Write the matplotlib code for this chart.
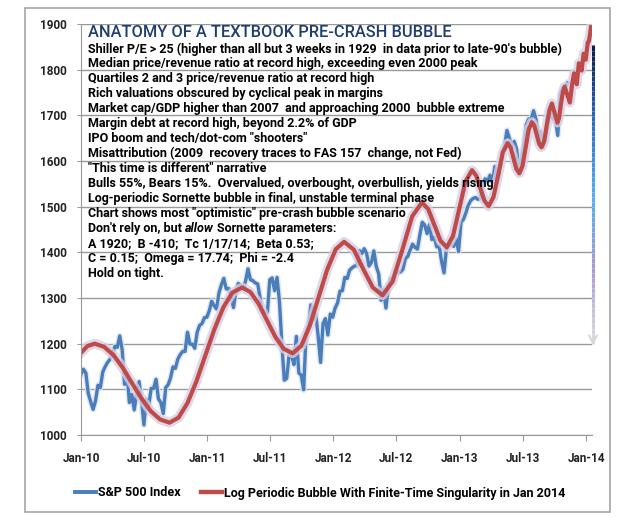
import matplotlib
matplotlib.use('Agg')
import matplotlib.pyplot as plt
import matplotlib.dates as mdates
import matplotlib.patheffects as pe
from matplotlib.collections import LineCollection
from matplotlib.colors import LinearSegmentedColormap
from matplotlib.lines import Line2D
from matplotlib.patches import Rectangle
import numpy as np
import pandas as pd

plt.rcParams['font.family'] = ['Roboto', 'DejaVu Sans']

# S&P 500 weekly closes (Fridays)
sp_2010 = [1133, 1144, 1136, 1091, 1073, 1056, 1075, 1109, 1104, 1138, 1150, 1159, 1166,
           1178, 1194, 1192, 1217, 1187, 1111, 1136, 1071, 1089, 1055, 1092, 1117, 1076,
           1022, 1078, 1065, 1102, 1102, 1122, 1079, 1071, 1047, 1104, 1110, 1125, 1149,
           1146, 1166, 1176, 1183, 1183, 1225, 1199, 1199, 1190, 1225, 1240, 1244, 1257, 1258]
sp_2011 = [1272, 1293, 1283, 1276, 1311, 1329, 1343, 1320, 1321, 1304, 1279, 1314, 1332,
           1328, 1320, 1337, 1364, 1340, 1338, 1333, 1331, 1300, 1271, 1271, 1268, 1340,
           1344, 1316, 1345, 1292, 1199, 1120, 1124, 1177, 1174, 1154, 1216, 1136, 1131,
           1099, 1224, 1238, 1285, 1253, 1264, 1216, 1159, 1244, 1255, 1219, 1265, 1258]
sp_2012 = [1278, 1289, 1315, 1316, 1345, 1343, 1361, 1366, 1370, 1371, 1404, 1397, 1408,
           1398, 1370, 1378, 1403, 1369, 1353, 1295, 1318, 1278, 1325, 1343, 1335, 1362,
           1355, 1357, 1363, 1386, 1391, 1405, 1418, 1411, 1407, 1438, 1466, 1460, 1441,
           1461, 1428, 1433, 1412, 1414, 1380, 1355, 1409, 1416, 1418, 1413, 1430, 1402]
sp_2013 = [1466, 1472, 1486, 1503, 1513, 1518, 1520, 1516, 1518, 1551, 1561, 1556, 1569,
           1553, 1588, 1555, 1582, 1614, 1633, 1667, 1650, 1631, 1643, 1626, 1573, 1606,
           1632, 1680, 1692, 1692, 1710, 1691, 1656, 1664, 1633, 1655, 1688, 1710, 1692,
           1691, 1656, 1745, 1760, 1762, 1771]
sp_values = sp_2010 + sp_2011 + sp_2012 + sp_2013
sp_dates = pd.date_range('2010-01-01', periods=len(sp_values), freq='W-FRI')

# log-periodic bubble curve
lp_dates = ['2010-01-01', '2010-01-20', '2010-02-10', '2010-03-09', '2010-04-05', '2010-05-02',
            '2010-05-29', '2010-06-25', '2010-07-22', '2010-08-18', '2010-09-14', '2010-10-10',
            '2010-11-05', '2010-12-01', '2010-12-27', '2011-01-22', '2011-02-17', '2011-03-15',
            '2011-04-12', '2011-05-06', '2011-05-30', '2011-06-23', '2011-07-17', '2011-08-10',
            '2011-09-05', '2011-09-30', '2011-10-25', '2011-11-19', '2011-12-14', '2012-01-08',
            '2012-02-01', '2012-02-29', '2012-03-27', '2012-04-24', '2012-05-22', '2012-06-20',
            '2012-07-19', '2012-08-16', '2012-09-13', '2012-10-01', '2012-10-19', '2012-11-06',
            '2012-11-24', '2012-12-12', '2012-12-30', '2013-01-17', '2013-02-05', '2013-02-17',
            '2013-03-01', '2013-03-13', '2013-03-25', '2013-04-08', '2013-04-22', '2013-05-05',
            '2013-05-19', '2013-05-28', '2013-06-05', '2013-06-13', '2013-06-22', '2013-07-01',
            '2013-07-10', '2013-07-19', '2013-07-28', '2013-08-04', '2013-08-11', '2013-08-18',
            '2013-08-25', '2013-09-02', '2013-09-09', '2013-09-17', '2013-09-24', '2013-10-02',
            '2013-10-10', '2013-10-15', '2013-10-20', '2013-10-26', '2013-10-31', '2013-11-07',
            '2013-11-15', '2013-11-21', '2013-11-27', '2013-12-01', '2013-12-05', '2013-12-08',
            '2013-12-11', '2013-12-15', '2013-12-19', '2013-12-22', '2013-12-25', '2013-12-28',
            '2013-12-31', '2014-01-03', '2014-01-06', '2014-01-09', '2014-01-12', '2014-01-15']
lp_values = [1180, 1195, 1200, 1193, 1175, 1147, 1113, 1080, 1052, 1034, 1027, 1038,
             1070, 1118, 1175, 1232, 1280, 1312, 1323, 1313, 1287, 1251, 1215, 1189,
             1179, 1195, 1240, 1301, 1362, 1407, 1423, 1406, 1364, 1323, 1306, 1336,
             1407, 1479, 1509, 1495, 1460, 1425, 1411, 1436, 1495, 1555, 1580, 1568,
             1540, 1513, 1501, 1521, 1570, 1619, 1639, 1629, 1606, 1583, 1573, 1589,
             1629, 1669, 1685, 1677, 1658, 1638, 1630, 1644, 1678, 1712, 1726, 1705,
             1684, 1695, 1724, 1752, 1763, 1746, 1728, 1765, 1792, 1780, 1768, 1792,
             1814, 1805, 1798, 1818, 1835, 1826, 1822, 1842, 1860, 1862, 1876, 1893]

notes = [
    'Shiller P/E > 25 (higher than all but 3 weeks in 1929  in data prior to late-90\'s bubble)',
    'Median price/revenue ratio at record high, exceeding even 2000 peak',
    'Quartiles 2 and 3 price/revenue ratio at record high',
    'Rich valuations obscured by cyclical peak in margins',
    'Market cap/GDP higher than 2007  and approaching 2000  bubble extreme',
    'Margin debt at record high, beyond 2.2% of GDP',
    'IPO boom and tech/dot-com "shooters"',
    'Misattribution (2009  recovery traces to FAS 157  change, not Fed)',
    '"This time is different" narrative',
    'Bulls 55%, Bears 15%.  Overvalued, overbought, overbullish, yields rising',
    'Log-periodic Sornette bubble in final, unstable terminal phase',
    'Chart shows most "optimistic" pre-crash bubble scenario',
    None,
    'A 1920;  B -410;  Tc 1/17/14;  Beta 0.53;',
    'C = 0.15;  Omega = 17.74;  Phi = -2.4',
    'Hold on tight.',
]

W, H = 625, 517
BLUE, RED = '#4a7ebb', '#be4b48'
fig = plt.figure(figsize=(W / 100, H / 100), dpi=100)
ax = fig.add_axes([81 / W, 1 - 435 / H, (592 - 81) / W, (435 - 24) / H])

ax.plot(sp_dates, sp_values, color=BLUE, lw=2.4,
        path_effects=[pe.Stroke(linewidth=4.5, foreground='#dde3ef', alpha=0.8), pe.Normal()])
ax.plot(pd.to_datetime(lp_dates), lp_values, color=RED, lw=3,
        path_effects=[pe.Stroke(linewidth=7, foreground='#d8d0e6', alpha=0.8), pe.Normal()])

ax.set_xlim(pd.Timestamp('2010-01-01'), pd.Timestamp('2014-01-18'))
ax.set_ylim(1000, 1900)
ax.set_yticks(range(1000, 2000, 100))
ax.xaxis.set_major_locator(mdates.MonthLocator(bymonth=[1, 7]))
ax.xaxis.set_major_formatter(mdates.DateFormatter('%b-%y'))
ax.yaxis.grid(True, color='#999999', lw=1)
ax.set_axisbelow(True)
for s in ['top', 'right']:
    ax.spines[s].set_visible(False)
for s in ['left', 'bottom']:
    ax.spines[s].set_color('#999999')
ax.tick_params(axis='both', colors='#999999', labelcolor='#222222', labelsize=8.5)
ax.tick_params(axis='x', length=4, pad=8)
ax.tick_params(axis='y', length=3, pad=7)
for lab in ax.get_xticklabels() + ax.get_yticklabels():
    lab.set_fontweight('bold')

# gradient marker bar at the right edge with a down arrow
cmap = LinearSegmentedColormap.from_list('bar', ['#0b1d4e', '#2a6fc0', '#4fb0f0', '#a89ad0', '#dcdcdc'])
ys = np.linspace(1853, 1200, 60)
segs = [[(1.002, ys[i]), (1.002, ys[i + 1])] for i in range(len(ys) - 1)]
lc = LineCollection(segs, colors=cmap(np.linspace(0, 1, len(segs))), linewidths=2.2,
                    transform=ax.get_yaxis_transform(), clip_on=False)
ax.add_collection(lc)
ax.annotate('', xy=(1.002, 1190), xytext=(1.002, 1215), xycoords=ax.get_yaxis_transform(),
            arrowprops=dict(arrowstyle='->', color='#d6d6d6', lw=1.5, mutation_scale=14),
            annotation_clip=False)

# annotation block
x0 = 88 / W
FS = 9.0
fig.text(x0, 1 - 32.5 / H, 'ANATOMY OF A TEXTBOOK PRE-CRASH BUBBLE', color='#1f3d6e',
         fontsize=11.8, fontweight='medium', va='center')
for i, line in enumerate(notes):
    yy = 1 - (49 + 14.95 * i) / H
    if line is None:
        t1 = fig.text(x0, yy, "Don't rely on, but", fontsize=FS, fontweight='bold', va='center')
        fig.canvas.draw()
        bb = t1.get_window_extent()
        t2 = fig.text((bb.x1 + 3) / W, yy, 'allow', fontsize=FS, fontweight='bold',
                      style='italic', va='center')
        fig.canvas.draw()
        bb = t2.get_window_extent()
        fig.text((bb.x1 + 3) / W, yy, 'Sornette parameters:', fontsize=FS, fontweight='bold', va='center')
    else:
        fig.text(x0, yy, line, fontsize=FS, fontweight='bold', va='center')

handles = [Line2D([], [], color=BLUE, lw=2.8), Line2D([], [], color=RED, lw=3.2)]
labels = ['S&P 500 Index', 'Log Periodic Bubble With Finite-Time Singularity in Jan 2014']
fig.legend(handles, labels, loc='center', bbox_to_anchor=(0.512, 1 - 493 / H), ncol=2,
           frameon=False, handlelength=1.7, columnspacing=1.6, handletextpad=0.15,
           prop={'weight': 'bold', 'size': 9})

fig.add_artist(Rectangle((25 / W, 1 - 512 / H), 585 / W, 504 / H, transform=fig.transFigure,
                         fill=False, ec='#a6a6a6', lw=1.2))

fig.savefig('out.png', dpi=100)
